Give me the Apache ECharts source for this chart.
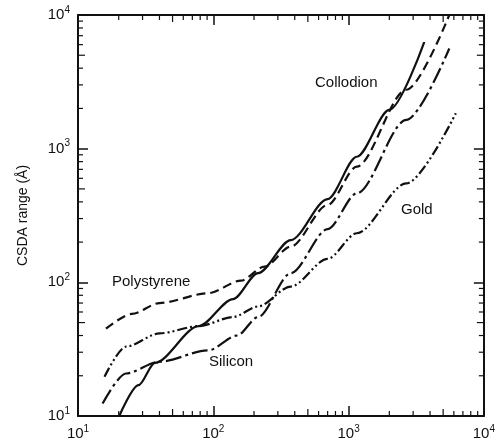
<!DOCTYPE html>
<html><head><meta charset="utf-8">
<script src="https://cdn.jsdelivr.net/npm/echarts@6/dist/echarts.min.js"></script>
<style>html,body{margin:0;background:#fff}#main{width:498px;height:447px}</style>
</head><body><div id="main"></div>
<script>
// energy (eV) vs CSDA range (Å)
let collodion=[[20.2,10],[28,17],[37,25],[78,47],[140,75],[214,117],[374,207],[700,420],[1150,870],[2000,1950],[3630,6300]];
let polystyrene=[[16.1,45],[25,58],[40,70],[92,83],[160,103],[239,131],[374,185],[700,380],[1150,733],[2670,2760],[5550,10000]];
let silicon=[[15.2,12.4],[22.6,20.8],[40,25.5],[92,31],[150,40],[214,55],[374,117],[700,250],[1150,463],[2670,1640],[5550,5620]];
let gold=[[15.7,19.7],[22.6,33],[40,41.5],[78,47],[140,55],[214,66],[374,93],[700,150],[1150,233],[2670,550],[6200,1840]];
let decades=[10,100,1000];
let labels=[['Collodion',315,83],['Gold',401,210],['Polystyrene',112,282],['Silicon',209,362]];

const font='Liberation Sans, Arial, sans-serif';
function powLabel(v){
    let e=Math.round(Math.log10(v));
    return '{b|10}{e|'+e+'}';
}
const rich={b:{fontSize:15,fontFamily:font,color:'#111'},e:{fontSize:10,fontFamily:font,color:'#111',verticalAlign:'top',padding:[0,0,10,0]}};
function axis(type,pos,show){
    return {
        type:'log',logBase:10,min:10,max:10000,position:pos,
        axisLine:{show:true,lineStyle:{color:'#111',width:2}},
        axisTick:{show:true,inside:true,length:10,lineStyle:{color:'#111',width:1.5}},
        splitLine:{show:false},
        axisLabel:{show:show,formatter:powLabel,rich:rich,margin:8},
        name:type==='y'&&show?'CSDA range (Å)':'',
        nameLocation:'middle',nameGap:48,
        nameTextStyle:{fontSize:14,fontFamily:font,color:'#111'}
    };
}
function ser(name,data,type){
    return {name:name,type:'line',data:data,smooth:0.3,smoothMonotone:'x',showSymbol:false,
        lineStyle:{color:'#111',width:2.2,type:type,cap:'butt'}};
}
let option={
    animation:false,
    grid:{left:78,right:10,top:15,bottom:31},
    xAxis:[axis('x','bottom',true),axis('x','top',false)],
    yAxis:[axis('y','left',true),axis('y','right',false)],
    series:[
        ser('Collodion',collodion,'solid'),
        ser('Polystyrene',polystyrene,[9,5]),
        ser('Silicon',silicon,[16,4,3,4]),
        ser('Gold',gold,[10,3,2,3,2,3])
    ],
    graphic:labels.map(function(l){
        return {type:'text',x:l[1],y:l[2],style:{text:l[0],fontSize:15,fontFamily:font,fill:'#111',textVerticalAlign:'middle'}};
    })
};
let myChart=echarts.init(document.getElementById('main'));
myChart.setOption(option);

// minor ticks at 2..9 of each decade, placed through the axis scale
let minor=[];
let p0=myChart.convertToPixel({gridIndex:0},[10,10]);
let p1=myChart.convertToPixel({gridIndex:0},[10000,10000]);
for(const d of decades){
    for(let k=2;k<=9;k++){
        let px=myChart.convertToPixel({gridIndex:0},[d*k,d*k]);
        let len=(k===5)?7:5;
        minor.push({type:'line',shape:{x1:px[0],y1:p0[1],x2:px[0],y2:p0[1]-len},style:{stroke:'#111',lineWidth:1.2}});
        minor.push({type:'line',shape:{x1:px[0],y1:p1[1],x2:px[0],y2:p1[1]+len},style:{stroke:'#111',lineWidth:1.2}});
        minor.push({type:'line',shape:{x1:p0[0],y1:px[1],x2:p0[0]+len,y2:px[1]},style:{stroke:'#111',lineWidth:1.2}});
        minor.push({type:'line',shape:{x1:p1[0],y1:px[1],x2:p1[0]-len,y2:px[1]},style:{stroke:'#111',lineWidth:1.2}});
    }
}
myChart.setOption({graphic:option.graphic.concat(minor)});
</script></body></html>
